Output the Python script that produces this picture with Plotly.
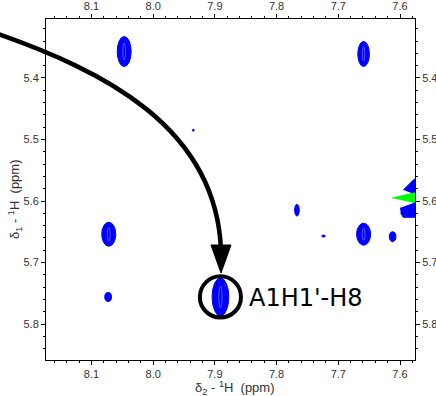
import plotly.graph_objects as go

# ---- data (ppm) ----
peak_x = [8.047, 7.659, 8.072, 8.073, 7.891, 7.767, 7.724, 7.659, 7.612, 7.935]
peak_y = [5.357, 5.361, 5.654, 5.756, 5.756, 5.615, 5.657, 5.654, 5.658, 5.485]
peak_wx = [0.0227, 0.0188, 0.0227, 0.0109, 0.0271, 0.0075, 0.0057, 0.0227, 0.0109, 0.0030]
peak_wy = [0.0488, 0.0407, 0.0390, 0.0146, 0.0618, 0.0190, 0.0033, 0.0358, 0.0163, 0.0030]

edge_top_x = [7.5946, 7.5773, 7.565, 7.565, 7.5773]
edge_top_y = [5.5822, 5.5648, 5.5648, 5.5887, 5.5887]
edge_neg_x = [7.6129, 7.5773, 7.565, 7.565, 7.5773]
edge_neg_y = [5.5952, 5.5870, 5.5870, 5.6033, 5.6033]
edge_bot_x = [7.6000, 7.5773, 7.565, 7.565, 7.5946, 7.5988]
edge_bot_y = [5.6119, 5.6038, 5.6038, 5.6265, 5.6265, 5.6200]

x_range = [8.1737, 7.5757]
y_range = [5.8585, 5.3041]
label_text = "A1H1'-H8"
label_peak = 4

BLUE = "#0000ff"
GREEN = "#00ff00"

fig = go.Figure()

for xs, ys, col in [(edge_top_x, edge_top_y, BLUE), (edge_neg_x, edge_neg_y, GREEN),
                    (edge_bot_x, edge_bot_y, BLUE)]:
    fig.add_trace(go.Scatter(x=xs, y=ys, fill="toself", mode="lines",
                             line=dict(color=col, width=1), fillcolor=col,
                             hoverinfo="skip", showlegend=False))

fig.add_trace(go.Scatter(x=[None], y=[None], xaxis="x2", yaxis="y2", showlegend=False))

shapes = []
for cx, cy, wx, wy in zip(peak_x, peak_y, peak_wx, peak_wy):
    shapes.append(dict(type="circle", xref="x", yref="y",
                       x0=cx - wx / 2, x1=cx + wx / 2, y0=cy - wy / 2, y1=cy + wy / 2,
                       fillcolor=BLUE, line=dict(color=BLUE, width=1)))
    if wx > 0.015:
        shapes.append(dict(type="circle", xref="x", yref="y",
                           x0=cx - wx * 0.1, x1=cx + wx * 0.1,
                           y0=cy - wy * 0.28, y1=cy + wy * 0.28,
                           line=dict(color="#8c8cff", width=0.6)))

# circle around labelled peak
lx, ly = peak_x[label_peak], peak_y[label_peak]
shapes.append(dict(type="circle", xref="x", yref="y",
                   x0=lx - 0.0333, x1=lx + 0.0333, y0=ly - 0.0335, y1=ly + 0.0335,
                   line=dict(color="black", width=4)))

# arrow (paper coords from layout pixels)
PX0, PX1, PY0, PY1 = 46, 415, 19, 360
def pp(px, py):
    return (px - PX0) / (PX1 - PX0), (PY1 - py) / (PY1 - PY0)

p0 = pp(-2, 34); p1 = pp(100, 70); p2 = pp(216, 125); p3 = pp(221, 250)
path = "M %f,%f C %f,%f %f,%f %f,%f" % (*p0, *p1, *p2, *p3)
shapes.append(dict(type="path", xref="paper", yref="paper", path=path,
                   line=dict(color="black", width=4.5)))
a0 = pp(211, 245); a1 = pp(231, 245); a2 = pp(221, 273)
shapes.append(dict(type="path", xref="paper", yref="paper",
                   path="M %f,%f L %f,%f L %f,%f Z" % (*a0, *a1, *a2),
                   fillcolor="black", line=dict(color="black", width=1)))

tickfont = dict(family="Liberation Sans, Arial, sans-serif", size=11, color="#333333")
axis_common = dict(showline=True, linecolor="black", linewidth=1, ticks="outside",
                   ticklen=4, tickcolor="black", tickwidth=1, dtick=0.1, tick0=0,
                   showgrid=False, zeroline=False, tickfont=tickfont, tickformat=".1f",
                   automargin=False,
                   minor=dict(dtick=0.02, tick0=0, ticks="outside", ticklen=2,
                              tickcolor="black", showgrid=False))

fig.update_layout(
    template="none",
    width=436, height=396, margin=dict(l=46, r=21, t=19, b=36, autoexpand=False),
    plot_bgcolor="white", paper_bgcolor="white", showlegend=False,
    xaxis=dict(range=x_range, side="bottom", **axis_common),
    xaxis2=dict(range=x_range, side="top", overlaying="x", **axis_common),
    yaxis=dict(range=y_range, side="left", **axis_common),
    yaxis2=dict(range=y_range, side="right", overlaying="y", **axis_common),
    shapes=shapes,
)

title_font = dict(family="Liberation Sans, Arial, sans-serif", size=13, color="#333333")
fig.add_annotation(x=pp(247, 0)[0], y=pp(0, 298)[1], xref="paper", yref="paper",
                   text=label_text, showarrow=False, xanchor="left", yanchor="middle",
                   font=dict(family="DejaVu Sans", size=24, color="black"))
fig.add_annotation(x=pp(235, 0)[0], y=pp(0, 388)[1], xref="paper", yref="paper",
                   text="δ<sub>2</sub> - <sup>1</sup>H &nbsp;(ppm)", showarrow=False,
                   xanchor="center", yanchor="middle", font=title_font)
fig.add_annotation(x=pp(15, 0)[0], y=pp(0, 199)[1], xref="paper", yref="paper",
                   text="δ<sub>1</sub> - <sup>1</sup>H &nbsp;(ppm)", showarrow=False, textangle=-90,
                   xanchor="center", yanchor="middle", font=title_font)

fig.write_html("out.html")
